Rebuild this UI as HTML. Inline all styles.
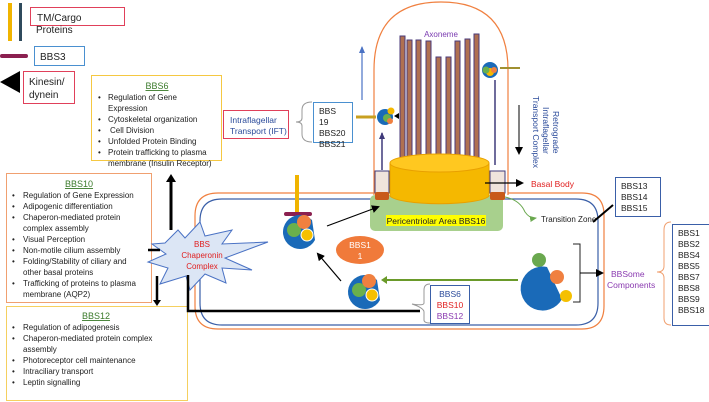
<!DOCTYPE html>
<html><head><meta charset="utf-8"><style>
body{margin:0;background:#fff;}
svg{display:block;font-family:"Liberation Sans",sans-serif;}
</style></head><body>
<svg width="709" height="402" viewBox="0 0 709 402" xmlns="http://www.w3.org/2000/svg">
<defs>
<marker id="ab" markerUnits="userSpaceOnUse" markerWidth="8" markerHeight="8" refX="6" refY="4" orient="auto"><path d="M0,0 L8,4 L0,8 z" fill="#000"/></marker>
<marker id="ag" markerUnits="userSpaceOnUse" markerWidth="8" markerHeight="8" refX="6" refY="4" orient="auto"><path d="M0,1 L7,4 L0,7 z" fill="#6aa84f"/></marker>
<marker id="abl" markerUnits="userSpaceOnUse" markerWidth="8" markerHeight="8" refX="6" refY="4" orient="auto"><path d="M0,1 L7,4 L0,7 z" fill="#4a72c4"/></marker>
<marker id="ap" markerUnits="userSpaceOnUse" markerWidth="8" markerHeight="8" refX="6" refY="4" orient="auto"><path d="M0,1 L7,4 L0,7 z" fill="#3f3a7a"/></marker>
</defs>
<!-- legend -->
<rect x="8" y="3" width="4" height="38" fill="#f0b400"/>
<rect x="19" y="3" width="3" height="38" fill="#2f4a5c"/>
<rect x="30.5" y="7.5" width="94" height="18" fill="none" stroke="#e0405a"/>
<text x="37" y="21" font-size="10" fill="#222">TM/Cargo</text>
<text x="36" y="33" font-size="10" fill="#222">Proteins</text>
<rect x="0" y="54" width="28" height="4" rx="2" fill="#8b2050"/>
<rect x="34.5" y="46.5" width="50" height="19" fill="none" stroke="#4a90d0"/>
<text x="40" y="60" font-size="10" fill="#222">BBS3</text>
<path d="M0,82 L20,71 L20,93 z" fill="#000"/>
<rect x="23.5" y="71.5" width="51" height="32" fill="none" stroke="#e0405a"/>
<text x="29" y="85" font-size="10" fill="#222">Kinesin/</text>
<text x="29" y="98" font-size="10" fill="#222">dynein</text>
<!-- BBS6 box -->
<rect x="91.5" y="75.5" width="130" height="85" fill="#fff" stroke="#f5c842"/>
<text x="157" y="89" font-size="9" fill="#3a7a2a" text-anchor="middle" text-decoration="underline">BBS6</text>
<g font-size="8" fill="#222">
<text x="98" y="100">•</text><text x="108" y="100">Regulation of Gene</text>
<text x="108" y="111">Expression</text>
<text x="98" y="122">•</text><text x="108" y="122">Cytoskeletal organization</text>
<text x="98" y="133">•</text><text x="110" y="133">Cell Division</text>
<text x="98" y="144">•</text><text x="108" y="144">Unfolded Protein Binding</text>
<text x="98" y="155">•</text><text x="108" y="155">Protein trafficking to plasma</text>
<text x="108" y="166">membrane (Insulin Receptor)</text>
</g>
<!-- IFT -->
<rect x="223.5" y="110.5" width="65" height="28" fill="none" stroke="#e0405a"/>
<text x="230" y="123" font-size="8.5" fill="#2a4a9a">Intraflagellar</text>
<text x="230" y="134" font-size="8.5" fill="#2a4a9a">Transport (IFT)</text>
<path d="M312,102 Q302,102 302,110 L302,118 Q302,122 296,122 Q302,122 302,126 L302,134 Q302,142 312,142" fill="none" stroke="#999"/>
<rect x="313.5" y="102.5" width="39" height="40" fill="#fff" stroke="#4a90d0"/>
<g font-size="8.5" fill="#222"><text x="319" y="114">BBS</text><text x="319" y="125">19</text><text x="319" y="136">BBS20</text><text x="319" y="147">BBS21</text></g>
<!-- up arrow -->
<line x1="171" y1="230" x2="171" y2="179" stroke="#000" stroke-width="3"/>
<path d="M166,182 L171,174 L176,182 z" fill="#000"/>
<!-- BBS10 box -->
<rect x="6.5" y="173.5" width="145" height="129" fill="#fff" stroke="#f0a070"/>
<text x="79" y="187" font-size="9" fill="#3a7a2a" text-anchor="middle" text-decoration="underline">BBS10</text>
<g font-size="8" fill="#222">
<text x="12" y="198">•</text><text x="23" y="198">Regulation of Gene Expression</text>
<text x="12" y="209">•</text><text x="23" y="209">Adipogenic differentiation</text>
<text x="12" y="220">•</text><text x="23" y="220">Chaperon-mediated protein</text>
<text x="23" y="231">complex assembly</text>
<text x="12" y="242">•</text><text x="23" y="242">Visual Perception</text>
<text x="12" y="253">•</text><text x="23" y="253">Non-motile cilium assembly</text>
<text x="12" y="264">•</text><text x="23" y="264">Folding/Stability of ciliary and</text>
<text x="23" y="275">other basal proteins</text>
<text x="12" y="286">•</text><text x="23" y="286">Trafficking of proteins to plasma</text>
<text x="23" y="297">membrane (AQP2)</text>
</g>
<!-- BBS12 box -->
<rect x="6.5" y="306.5" width="181" height="94" fill="#fff" stroke="#f5d060"/>
<text x="96" y="319" font-size="9" fill="#3a7a2a" text-anchor="middle" text-decoration="underline">BBS12</text>
<g font-size="8" fill="#222">
<text x="12" y="330">•</text><text x="23" y="330">Regulation of adipogenesis</text>
<text x="12" y="341">•</text><text x="23" y="341">Chaperon-mediated protein complex</text>
<text x="23" y="352">assembly</text>
<text x="12" y="363">•</text><text x="23" y="363">Photoreceptor cell maintenance</text>
<text x="12" y="374">•</text><text x="23" y="374">Intraciliary transport</text>
<text x="12" y="385">•</text><text x="23" y="385">Leptin signalling</text>
</g>
<!-- cilium dome -->
<path d="M374,195 L374,70 Q374,2 441,2 Q508,2 508,70 L508,195" fill="none" stroke="#f08040" stroke-width="1.2"/>
<!-- cell outlines -->
<path d="M374,193 L218,193 Q195,193 195,216 L195,306 Q195,329 218,329 L582,329 Q604,329 604,306 L604,215 Q604,193 582,193 L508,193" fill="none" stroke="#f08040" stroke-width="1.2"/>
<path d="M378,199 L222,199 Q200,199 200,221 L200,303 Q200,325 222,325 L576,325 Q598,325 598,303 L598,221 Q598,199 576,199 L504,199" fill="none" stroke="#3a5fa8" stroke-width="1.2"/>
<!-- axoneme rods -->
<g fill="#b07050" stroke="#4a3a7a" stroke-width="1">
<rect x="400" y="36" width="5" height="130"/><rect x="407" y="40" width="5" height="126"/><rect x="416" y="40" width="5" height="126"/><rect x="426" y="41" width="5" height="125"/>
<rect x="436" y="57" width="5" height="109"/><rect x="446" y="57" width="5" height="109"/><rect x="455" y="41" width="5" height="125"/><rect x="465" y="39" width="5" height="127"/><rect x="474" y="34" width="5" height="132"/>
</g>
<text x="441" y="37" font-size="8" fill="#7a3ab0" text-anchor="middle">Axoneme</text>
<!-- pericentriolar -->
<rect x="370" y="195" width="133" height="36" rx="5" fill="#a8d08d"/>
<rect x="386" y="215" width="100" height="11" fill="#ffff00"/>
<text x="436" y="224" font-size="8.5" fill="#222" text-anchor="middle">Pericentriolar Area BBS16</text>
<!-- cylinder -->
<path d="M390,163 L390,196 A50,9 0 0 0 489,196 L489,163" fill="#f5b800" stroke="#e8a000"/>
<ellipse cx="439.5" cy="163" rx="49.5" ry="9" fill="#ffc820" stroke="#e8a000"/>
<!-- base boxes -->
<rect x="375" y="171" width="14" height="22" fill="#f0e4dc" stroke="#3f3a7a"/>
<rect x="375" y="192" width="14" height="8" rx="2" fill="#c85a1a"/>
<rect x="490" y="171" width="15" height="22" fill="#f0e4dc" stroke="#3f3a7a"/>
<rect x="490" y="192" width="15" height="8" rx="2" fill="#c85a1a"/>
<line x1="382" y1="170" x2="382" y2="133" stroke="#3f3a7a" stroke-width="1.5" marker-end="url(#ap)"/>
<line x1="495" y1="80" x2="495" y2="165" stroke="#3f3a7a" stroke-width="1.5"/>
<!-- IFT complexes in cilium -->
<line x1="356" y1="117" x2="376" y2="117" stroke="#c8a020" stroke-width="3"/>
<circle cx="385" cy="117" r="8" fill="#1a6ab8"/><circle cx="387" cy="118" r="4" fill="#6ab04c"/><circle cx="391" cy="111" r="3.5" fill="#f5b800"/><circle cx="390" cy="121" r="3" fill="#f08040"/>
<path d="M394,116 L399,113 L399,119 z" fill="#000"/>
<line x1="500" y1="68" x2="520" y2="68" stroke="#a09030" stroke-width="2"/>
<circle cx="490" cy="70" r="8" fill="#1a6ab8"/><circle cx="490" cy="72" r="4" fill="#f5b800"/><circle cx="486" cy="70" r="3.5" fill="#6ab04c"/><circle cx="494" cy="70" r="3" fill="#f08040"/>
<!-- arrows cilium -->
<line x1="362" y1="100" x2="362" y2="47" stroke="#4a72c4" stroke-width="1.2" marker-end="url(#abl)"/>
<line x1="519" y1="105" x2="519" y2="153" stroke="#000" stroke-width="1" marker-end="url(#ab)"/>
<g font-size="8.5" fill="#2a4a9a">
<text transform="translate(553,111) rotate(90)">Retrograde</text>
<text transform="translate(543,107) rotate(90)">Intraflagellar</text>
<text transform="translate(533,96) rotate(90)">Transport Complex</text>
</g>
<!-- basal body -->
<line x1="485" y1="183" x2="522" y2="183" stroke="#000" stroke-width="1.2" marker-end="url(#ab)"/>
<text x="531" y="187" font-size="8.5" fill="#e02020">Basal Body</text>
<path d="M505,197 Q520,200 525,212 Q530,219 536,218" fill="none" stroke="#6aa84f" stroke-width="1" marker-end="url(#ag)"/>
<text x="541" y="222" font-size="8" fill="#222">Transition Zone</text>
<line x1="593" y1="222" x2="613" y2="205" stroke="#000" stroke-width="2"/>
<rect x="615.5" y="177.5" width="45" height="39" fill="#fff" stroke="#3a5fa8"/>
<g font-size="8.5" fill="#222"><text x="621" y="189">BBS13</text><text x="621" y="200">BBS14</text><text x="621" y="211">BBS15</text></g>
<!-- BBSome -->
<circle cx="539" cy="260" r="7" fill="#6aa84f"/>
<path d="M547,267 A22,22 0 1 0 562,299 z" fill="#1a6ab8"/>
<circle cx="557" cy="277" r="7" fill="#f08040"/>
<circle cx="566" cy="296" r="6" fill="#f5c000"/>
<path d="M573,244 L580,244 L580,302 L573,302" fill="none" stroke="#222"/>
<line x1="580" y1="273" x2="602" y2="273" stroke="#000" marker-end="url(#ab)"/>
<text x="611" y="277" font-size="8.5" fill="#8a3ab0">BBSome</text>
<text x="607" y="288" font-size="8.5" fill="#8a3ab0">Components</text>
<path d="M671,222 Q664,222 664,230 L664,266 Q664,272 657,272 Q664,272 664,278 L664,318 Q664,325 671,325" fill="none" stroke="#f0a070"/>
<rect x="672.5" y="224.5" width="40" height="101" fill="#fff" stroke="#3a5fa8"/>
<g font-size="8.5" fill="#222"><text x="678" y="236">BBS1</text><text x="678" y="247">BBS2</text><text x="678" y="258">BBS4</text><text x="678" y="269">BBS5</text><text x="678" y="280">BBS7</text><text x="678" y="291">BBS8</text><text x="678" y="302">BBS9</text><text x="678" y="313">BBS18</text></g>
<!-- star -->
<path d="M165,243 L178,230 L185,238 L200,222 L205,236 L232,230 L222,244 L268,242 L225,258 L252,270 L222,268 L226,283 L205,274 L190,290 L186,276 L160,284 L168,268 L148,262 L166,254 L152,244 z" fill="#dce6f5" stroke="#4a72c4"/>
<g font-size="8" fill="#e02020" text-anchor="middle"><text x="202" y="247">BBS</text><text x="202" y="258">Chaperonin</text><text x="202" y="269">Complex</text></g>
<line x1="160" y1="250" x2="148" y2="250" stroke="#000" stroke-width="2.5"/>
<line x1="157" y1="276" x2="157" y2="300" stroke="#000" stroke-width="2.5"/>
<path d="M153,300 L157,306 L161,300 z" fill="#000"/>
<!-- black bottom line -->
<polyline points="188,275 188,311 420,311" fill="none" stroke="#000" stroke-width="2.5"/>
<!-- complexes -->
<line x1="297" y1="175" x2="297" y2="214" stroke="#f0b400" stroke-width="4"/>
<rect x="284" y="212" width="28" height="4" rx="2" fill="#8b2050"/>
<path d="M315,240 A17,17 0 1 1 312,220 z" fill="#1a6ab8"/>
<circle cx="294" cy="230" r="7" fill="#6ab04c"/><circle cx="304" cy="222" r="7" fill="#f08040"/><circle cx="307" cy="235" r="6" fill="#f5c000" stroke="#fff"/>
<line x1="327" y1="226" x2="378" y2="207" stroke="#000" stroke-width="1.2" marker-end="url(#ab)"/>
<ellipse cx="360" cy="250" rx="24" ry="14" fill="#f07a3a"/>
<text x="360" y="248" font-size="8.5" fill="#fff" text-anchor="middle">BBS1</text>
<text x="360" y="259" font-size="8.5" fill="#fff" text-anchor="middle">1</text>
<line x1="341" y1="281" x2="318" y2="254" stroke="#000" stroke-width="1.2" marker-end="url(#ab)"/>
<path d="M380,300 A17,17 0 1 1 377,280 z" fill="#1a6ab8"/>
<circle cx="359" cy="290" r="7" fill="#6ab04c"/><circle cx="369" cy="281" r="7" fill="#f08040"/><circle cx="372" cy="295" r="6" fill="#f5c000" stroke="#fff"/>
<line x1="383" y1="280" x2="518" y2="280" stroke="#6a9a2a" stroke-width="2"/>
<path d="M387,276 L381,280 L387,284 z" fill="#6a9a2a"/>
<path d="M430,284 Q424,284 424,290 L424,303 Q424,306 412,304 Q424,308 424,312 L424,320 Q424,323 430,323" fill="none" stroke="#999"/>
<rect x="430.5" y="285.5" width="39" height="38" fill="#fff" stroke="#3a5fa8"/>
<g font-size="8.5" text-anchor="middle"><text x="450" y="297" fill="#2a4a9a">BBS6</text><text x="450" y="308" fill="#e02020">BBS10</text><text x="450" y="319" fill="#8a3ab0">BBS12</text></g>
</svg>
</body></html>
